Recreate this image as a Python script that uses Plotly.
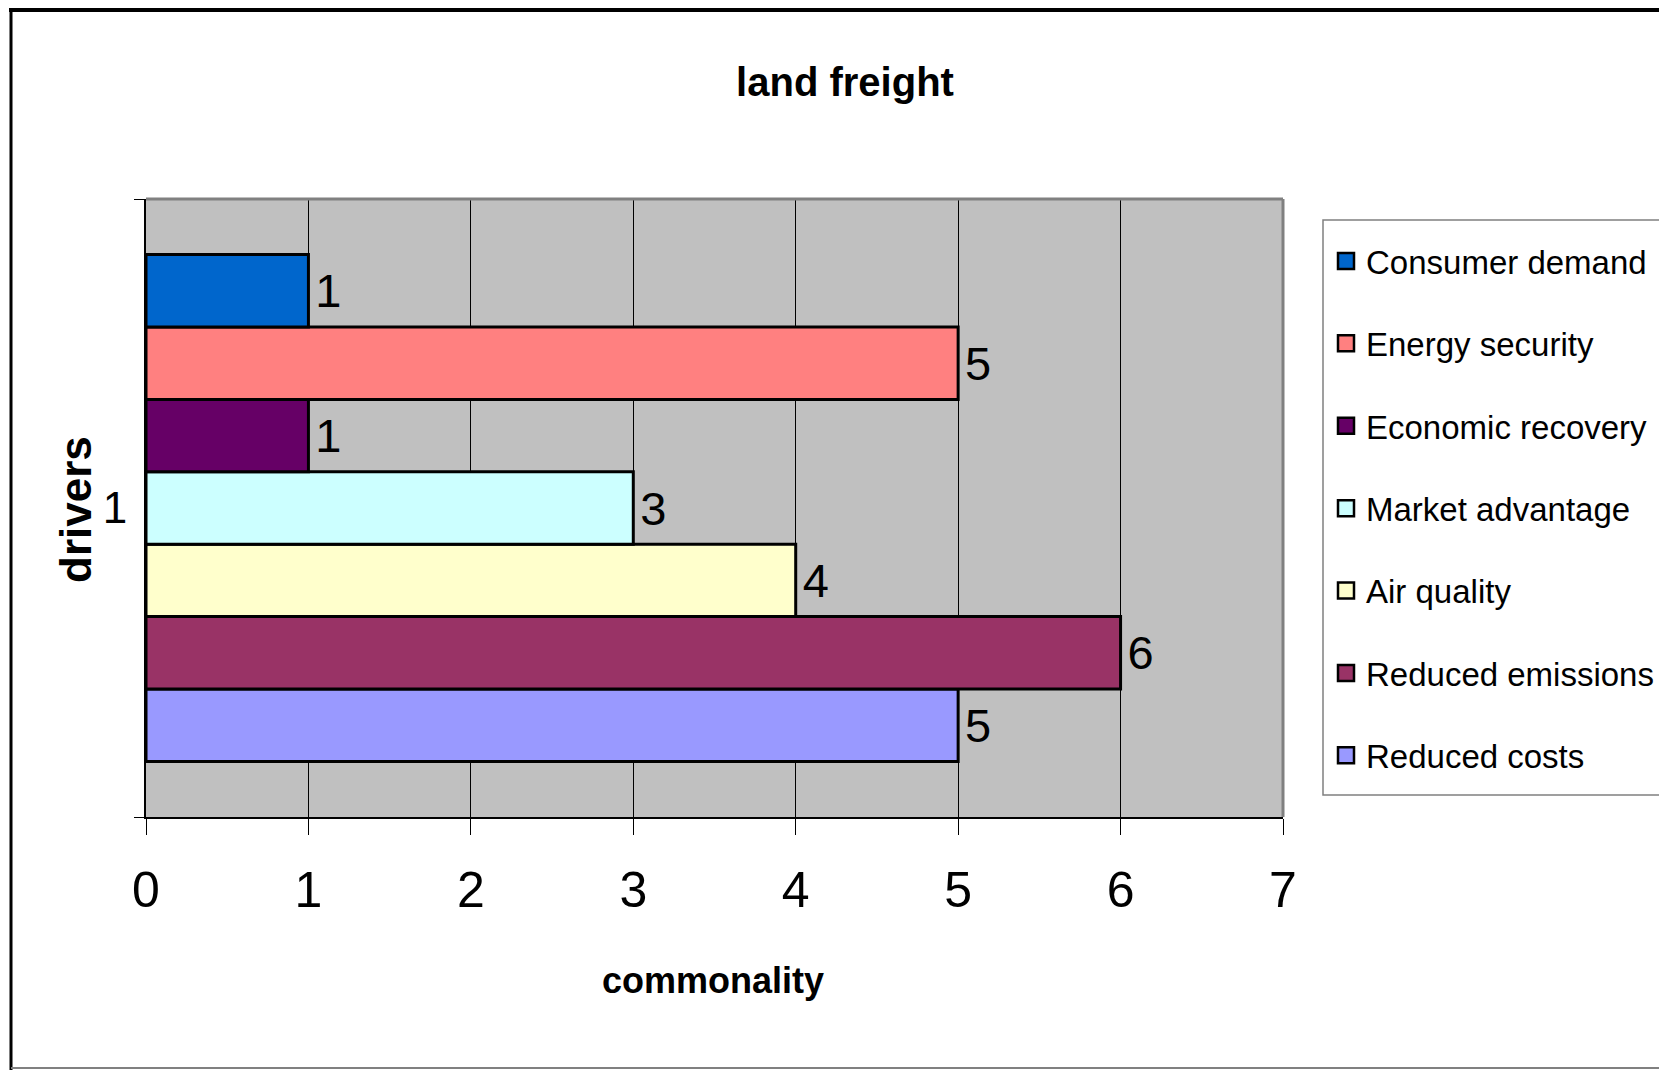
import plotly.graph_objects as go

categories = ["1"]
series_names = ["Consumer demand", "Energy security", "Economic recovery",
                "Market advantage", "Air quality", "Reduced emissions", "Reduced costs"]
series_values = [1, 5, 1, 3, 4, 6, 5]
series_colors = ["#0066CC", "#FF8080", "#660066", "#CCFFFF", "#FFFFCC", "#993366", "#9999FF"]
x_ticks = [0, 1, 2, 3, 4, 5, 6, 7]

FONT = "Liberation Sans Narrow, Arial Narrow, Liberation Sans, Arial, sans-serif"

# page offset (body margin of the html page)
OFF = 8
W, H = 1667 - OFF, 1070 - OFF
# plot area in page pixels
L, R, T, B = 146, 1283, 199, 817


def px_x(p):
    return (p - L) / (R - L)


def px_y(p):
    return (B - p) / (B - T)


fig = go.Figure()
# bars: add in reverse so first series is drawn at the top of the group
for name, val, col in reversed(list(zip(series_names, series_values, series_colors))):
    fig.add_trace(go.Bar(
        y=categories, x=[val], name=name, orientation="h",
        marker=dict(color=col, line=dict(color="black", width=3)),
        texttemplate="\u200a%{x}", textposition="outside", cliponaxis=False,
        textfont=dict(family=FONT, size=47, color="black"),
        showlegend=False, legendgroup=name,
    ))

# legend entries (square swatches with black outline)
for i, (name, col) in enumerate(zip(series_names, series_colors)):
    fig.add_trace(go.Scatter(
        x=[None], y=[None], name=name, mode="markers",
        marker=dict(symbol="square", size=24, color=col, line=dict(color="black", width=2.5)),
        legendgroup=name, legendrank=i + 1, showlegend=True,
    ))

shapes = [
    # outer frame
    dict(type="line", xref="paper", yref="paper", x0=px_x(9), x1=px_x(1670), y0=px_y(10), y1=px_y(10),
         line=dict(color="black", width=4)),
    dict(type="line", xref="paper", yref="paper", x0=px_x(11), x1=px_x(11), y0=px_y(8), y1=px_y(1070),
         line=dict(color="black", width=3)),
    dict(type="line", xref="paper", yref="paper", x0=px_x(11), x1=px_x(1670), y0=px_y(1068), y1=px_y(1068),
         line=dict(color="#808080", width=2)),
    # legend box
    dict(type="rect", xref="paper", yref="paper", x0=px_x(1323), x1=px_x(1663),
         y0=px_y(795), y1=px_y(220), line=dict(color="#808080", width=1.5), fillcolor="white",
         layer="below"),
    # plot area top/right gray border
    dict(type="line", xref="paper", yref="paper", x0=0, x1=1, y0=1, y1=1,
         line=dict(color="#808080", width=3)),
    dict(type="line", xref="paper", yref="paper", x0=1, x1=1, y0=0, y1=1,
         line=dict(color="#808080", width=3)),
]

annotations = [
    dict(text="<b>commonality</b>", xref="paper", yref="paper",
         x=px_x(713), y=px_y(980), xanchor="center", yanchor="middle", showarrow=False,
         font=dict(family=FONT, size=36, color="black")),
    dict(text="<b>drivers</b>", xref="paper", yref="paper",
         x=px_x(75), y=px_y(510), xanchor="center", yanchor="middle", showarrow=False,
         textangle=-90, font=dict(family=FONT, size=44, color="black")),
]

fig.update_layout(
    width=W, height=H,
    margin=dict(l=L - OFF, r=W - (R - OFF), t=T - OFF, b=H - (B - OFF), pad=0, autoexpand=False),
    paper_bgcolor="white", plot_bgcolor="#C0C0C0",
    barmode="group", bargap=0.18, bargroupgap=0,
    font=dict(family=FONT, color="black"),
    title=dict(text="<b>land freight</b>", x=(845 - OFF) / W, xref="container", xanchor="center",
               y=1 - (82 - OFF) / H, yref="container", yanchor="middle",
               font=dict(family=FONT, size=40, color="black")),
    xaxis=dict(range=[0, 7], tickvals=x_ticks, ticktext=[str(t) for t in x_ticks],
               showgrid=True, gridcolor="black", gridwidth=1, zeroline=False,
               showline=True, linecolor="black", linewidth=2,
               ticks="outside", ticklen=16, tickcolor="black", tickwidth=1,
               ticklabelstandoff=12,
               tickfont=dict(family=FONT, size=50, color="black")),
    yaxis=dict(type="category", range=[-0.5, 0.5], tickson="boundaries",
               showgrid=False, zeroline=False,
               showline=True, linecolor="black", linewidth=2,
               ticks="outside", ticklen=10, tickcolor="black", tickwidth=1,
               ticklabelstandoff=8,
               tickfont=dict(family=FONT, size=44, color="black")),
    legend=dict(x=px_x(1326), y=px_y(233), xanchor="left", yanchor="top",
                bgcolor="rgba(0,0,0,0)", borderwidth=0,
                traceorder="grouped", tracegroupgap=36.5,
                font=dict(family=FONT, size=33, color="black"),
                itemwidth=30),
    shapes=shapes,
    annotations=annotations,
    showlegend=True,
)

fig.write_html("out.html")
